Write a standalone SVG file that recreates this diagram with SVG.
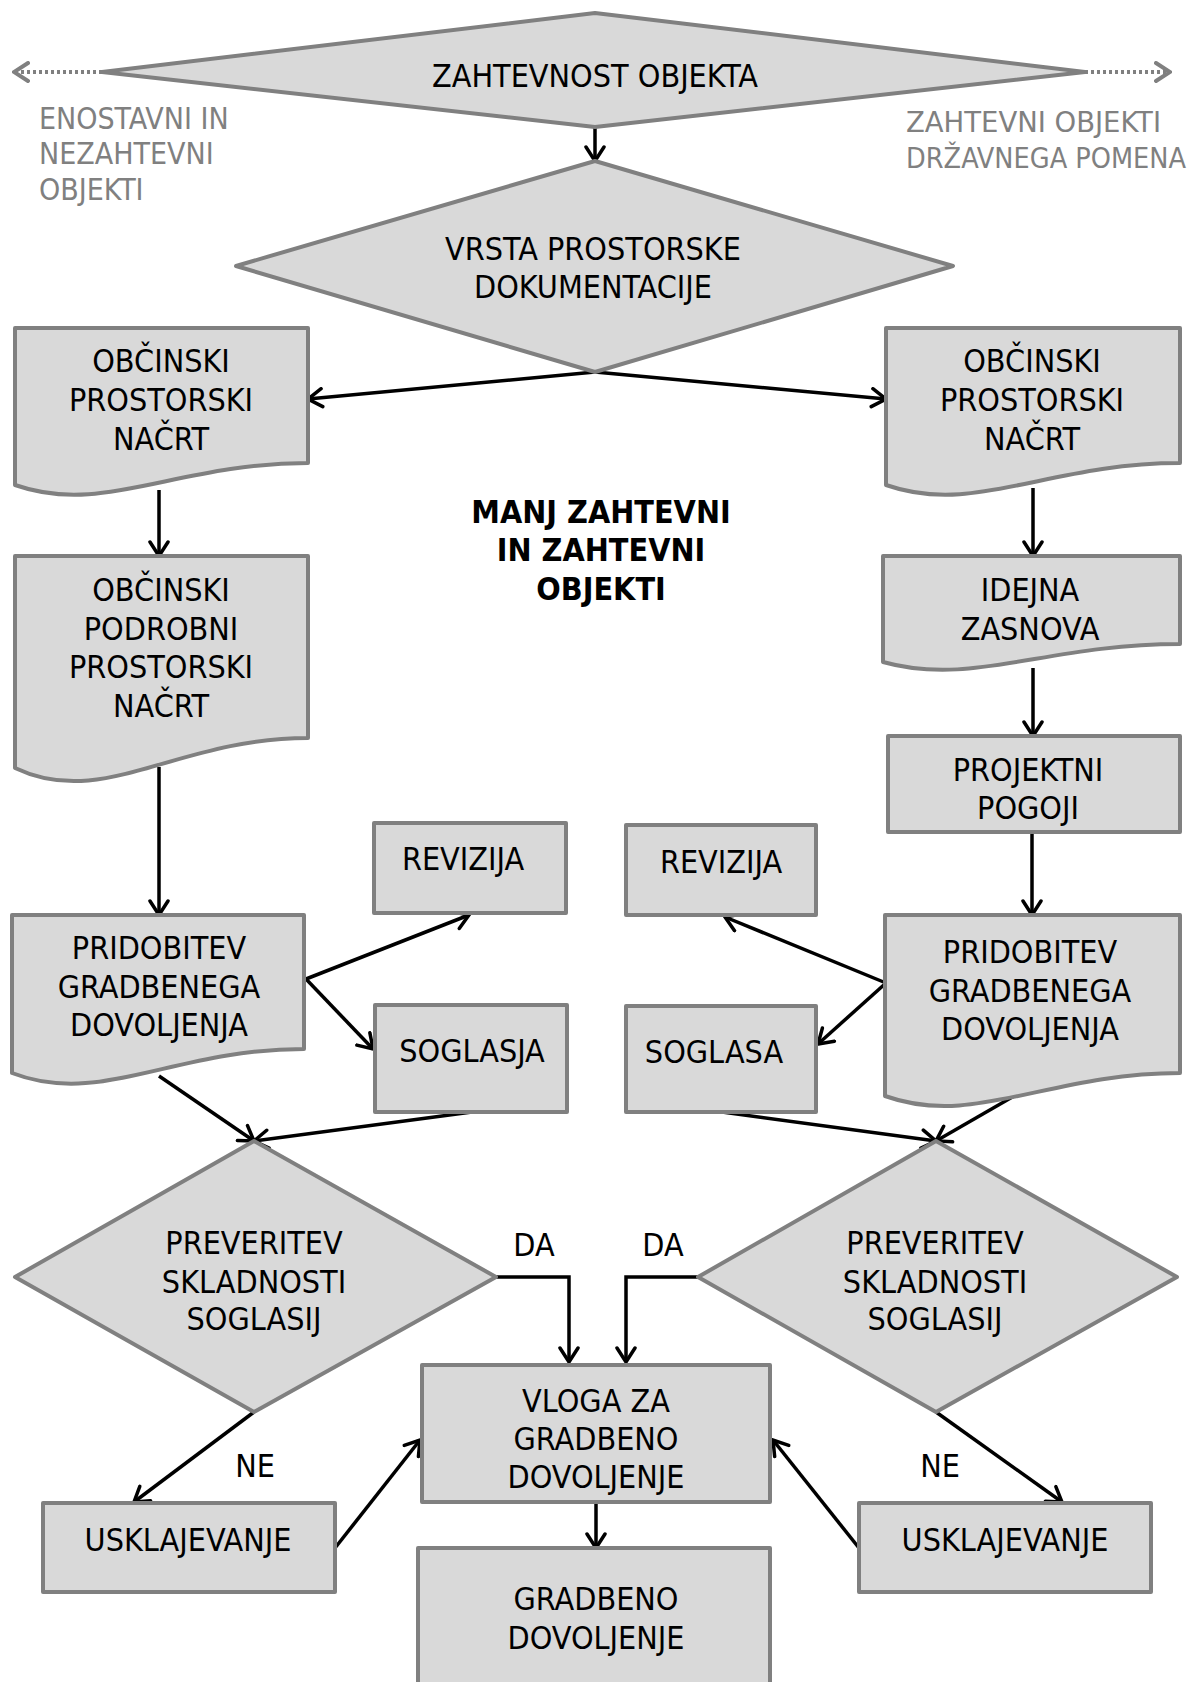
<svg xmlns="http://www.w3.org/2000/svg" width="1195" height="1682" viewBox="0 0 1195 1682">
<style>
.box{fill:#d9d9d9;stroke:#808080;stroke-width:4;stroke-linejoin:round}
.t{font-family:'DejaVu Sans Condensed','DejaVu Sans',sans-serif;font-stretch:condensed;font-size:32px;fill:#000;text-anchor:middle}
.b{font-weight:bold}
.g{font-family:'DejaVu Sans Condensed','DejaVu Sans',sans-serif;font-stretch:condensed;font-size:30px;fill:#808080}
.g2{font-size:28px}
.c{fill:none;stroke:#000;stroke-width:3.5;marker-end:url(#ah)}
.d{fill:none;stroke:#808080;stroke-width:4;stroke-dasharray:3 3;marker-end:url(#ag)}
</style>
<defs>
<marker id="ah" markerUnits="userSpaceOnUse" viewBox="0 0 18 22" refX="16" refY="11" markerWidth="18" markerHeight="22" orient="auto">
<path d="M2,2 L16,11 L2,20" fill="none" stroke="#000" stroke-width="3.5" stroke-linecap="round"/>
</marker>
<marker id="ag" markerUnits="userSpaceOnUse" viewBox="0 0 18 22" refX="16" refY="11" markerWidth="18" markerHeight="22" orient="auto">
<path d="M2,2 L16,11 L2,20" fill="none" stroke="#808080" stroke-width="4" stroke-linecap="round"/>
</marker>
</defs>
<rect width="1195" height="1682" fill="#fff"/>

<g id="connectors">
<path class="d" d="M102,72 H14"/>
<path class="d" d="M1085,72 H1170"/>
<path class="c" d="M595,127 V161"/>
<path class="c" d="M595,372 L308,399"/>
<path class="c" d="M595,372 L886,399"/>
<path class="c" d="M159,490 V556"/>
<path class="c" d="M1033,488 V556"/>
<path class="c" d="M1033,668 V736"/>
<path class="c" d="M1032,832 V915"/>
<path class="c" d="M159,767 V915"/>
<path class="c" d="M306,979 L469,915"/>
<path class="c" d="M306,979 L373,1049"/>
<path class="c" d="M886,983 L725,917"/>
<path class="c" d="M886,983 L818,1044"/>
<path class="c" d="M159,1076 L254,1141"/>
<path class="c" d="M472,1112 L254,1141"/>
<path class="c" d="M722,1112 L936,1141"/>
<path class="c" d="M1028,1088 L936,1141"/>
<path class="c" d="M496,1277 H569 V1362"/>
<path class="c" d="M698,1277 H626 V1362"/>
<path class="c" d="M596,1502 V1548"/>
<path class="c" d="M254,1412 L134,1502"/>
<path class="c" d="M335,1548 L420,1440"/>
<path class="c" d="M936,1412 L1062,1502"/>
<path class="c" d="M859,1548 L773,1440"/>
</g>

<g id="n-zahtevnost">
<polygon class="box" points="595,13 1085,72 595,127 102,72"/>
<text class="t" x="595" y="87">ZAHTEVNOST OBJEKTA</text>
</g>
<g id="n-enostavni">
<text class="g" x="39" y="129">ENOSTAVNI IN</text>
<text class="g" x="39" y="164">NEZAHTEVNI</text>
<text class="g" x="39" y="200">OBJEKTI</text>
</g>
<g id="n-drzavnega">
<text class="g g2" x="906" y="132" textLength="255" lengthAdjust="spacingAndGlyphs">ZAHTEVNI OBJEKTI</text>
<text class="g g2" x="906" y="168" textLength="280" lengthAdjust="spacingAndGlyphs">DRŽAVNEGA POMENA</text>
</g>
<g id="n-vrsta">
<polygon class="box" points="595,161 953,266 595,372 236,266"/>
<text class="t" x="593" y="260">VRSTA PROSTORSKE</text>
<text class="t" x="593" y="298">DOKUMENTACIJE</text>
</g>
<g id="n-opn-l">
<path class="box" d="M15,328 H308 V463 C176,463 103,516 15,485 Z"/>
<text class="t" x="161" y="372">OBČINSKI</text>
<text class="t" x="161" y="411">PROSTORSKI</text>
<text class="t" x="161" y="450">NAČRT</text>
</g>
<g id="n-opn-r">
<path class="box" d="M886,328 H1180 V463 C1048,463 974,516 886,485 Z"/>
<text class="t" x="1032" y="372">OBČINSKI</text>
<text class="t" x="1032" y="411">PROSTORSKI</text>
<text class="t" x="1032" y="450">NAČRT</text>
</g>
<g id="n-manj">
<text class="t b" x="601" y="523">MANJ ZAHTEVNI</text>
<text class="t b" x="601" y="561">IN ZAHTEVNI</text>
<text class="t b" x="601" y="600">OBJEKTI</text>
</g>
<g id="n-opppn">
<path class="box" d="M15,556 H308 V738 C176,738 103,810 15,768 Z"/>
<text class="t" x="161" y="601">OBČINSKI</text>
<text class="t" x="161" y="640">PODROBNI</text>
<text class="t" x="161" y="678">PROSTORSKI</text>
<text class="t" x="161" y="717">NAČRT</text>
</g>
<g id="n-idejna">
<path class="box" d="M883,556 H1180 V644 C1046,644 972,687 883,662 Z"/>
<text class="t" x="1030" y="601">IDEJNA</text>
<text class="t" x="1030" y="640">ZASNOVA</text>
</g>
<g id="n-pogoji">
<rect class="box" x="888" y="736" width="292" height="96"/>
<text class="t" x="1028" y="781">PROJEKTNI</text>
<text class="t" x="1028" y="819">POGOJI</text>
</g>
<g id="n-pgd-l">
<path class="box" d="M12,915 H304 V1049 C173,1049 100,1107 12,1073 Z"/>
<text class="t" x="159" y="959">PRIDOBITEV</text>
<text class="t" x="159" y="998">GRADBENEGA</text>
<text class="t" x="159" y="1036">DOVOLJENJA</text>
</g>
<g id="n-pgd-r">
<path class="box" d="M885,915 H1180 V1073 C1048,1073 974,1128 885,1096 Z"/>
<text class="t" x="1030" y="963">PRIDOBITEV</text>
<text class="t" x="1030" y="1002">GRADBENEGA</text>
<text class="t" x="1030" y="1040">DOVOLJENJA</text>
</g>
<g id="n-rev-l">
<rect class="box" x="374" y="823" width="192" height="90"/>
<text class="t" x="463" y="870">REVIZIJA</text>
</g>
<g id="n-rev-r">
<rect class="box" x="626" y="825" width="190" height="90"/>
<text class="t" x="721" y="873">REVIZIJA</text>
</g>
<g id="n-sog-l">
<rect class="box" x="375" y="1005" width="192" height="107"/>
<text class="t" x="472" y="1062">SOGLASJA</text>
</g>
<g id="n-sog-r">
<rect class="box" x="626" y="1006" width="190" height="106"/>
<text class="t" x="714" y="1063">SOGLASA</text>
</g>
<g id="n-prev-l">
<polygon class="box" points="254,1141 496,1277 254,1412 15,1277"/>
<text class="t" x="254" y="1254">PREVERITEV</text>
<text class="t" x="254" y="1293">SKLADNOSTI</text>
<text class="t" x="254" y="1330">SOGLASIJ</text>
</g>
<g id="n-prev-r">
<polygon class="box" points="936,1141 1177,1277 936,1412 698,1277"/>
<text class="t" x="935" y="1254">PREVERITEV</text>
<text class="t" x="935" y="1293">SKLADNOSTI</text>
<text class="t" x="935" y="1330">SOGLASIJ</text>
</g>
<g id="labels">
<text class="t" x="534" y="1256">DA</text>
<text class="t" x="663" y="1256">DA</text>
<text class="t" x="255" y="1477">NE</text>
<text class="t" x="940" y="1477">NE</text>
</g>
<g id="n-vloga">
<rect class="box" x="422" y="1365" width="348" height="137"/>
<text class="t" x="596" y="1412">VLOGA ZA</text>
<text class="t" x="596" y="1450">GRADBENO</text>
<text class="t" x="596" y="1488">DOVOLJENJE</text>
</g>
<g id="n-usk-l">
<rect class="box" x="43" y="1503" width="292" height="89"/>
<text class="t" x="188" y="1551">USKLAJEVANJE</text>
</g>
<g id="n-usk-r">
<rect class="box" x="859" y="1503" width="292" height="89"/>
<text class="t" x="1005" y="1551">USKLAJEVANJE</text>
</g>
<g id="n-gd">
<rect class="box" x="418" y="1548" width="352" height="150"/>
<text class="t" x="596" y="1610">GRADBENO</text>
<text class="t" x="596" y="1649">DOVOLJENJE</text>
</g>
</svg>
